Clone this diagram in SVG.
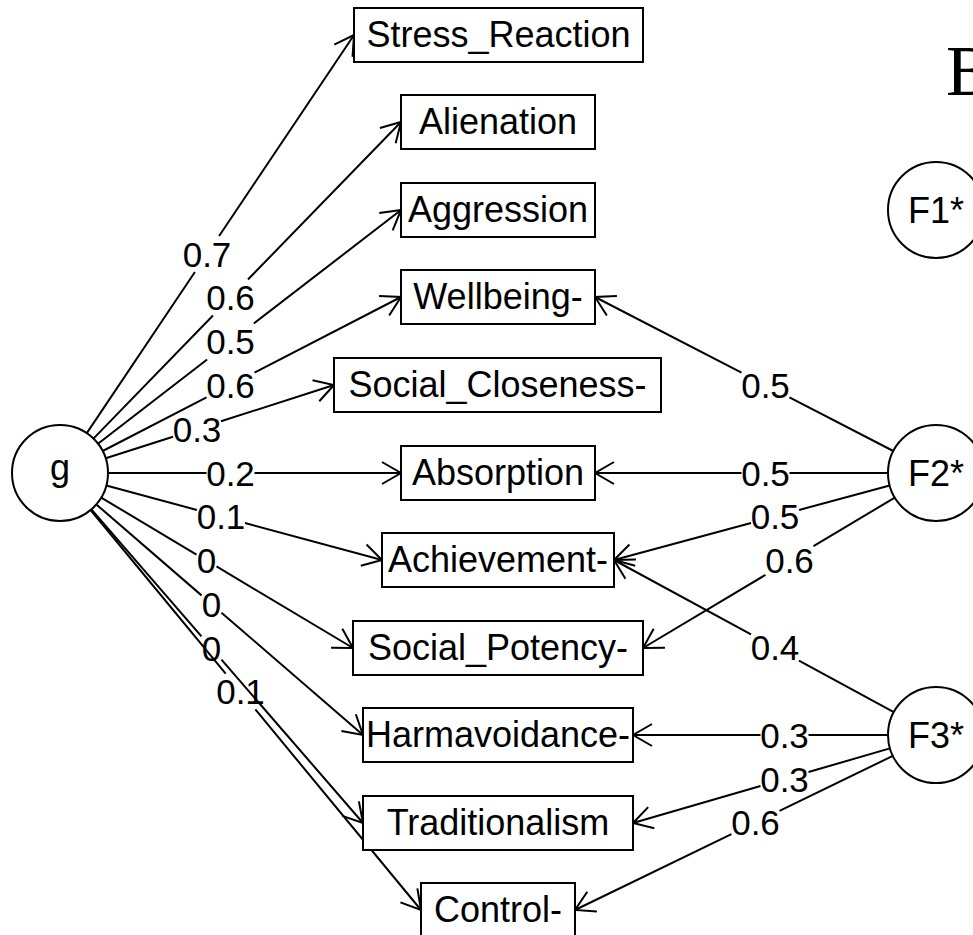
<svg xmlns="http://www.w3.org/2000/svg" width="973" height="935" viewBox="0 0 973 935">
  <style>
    .box { fill: #fff; stroke: #000; stroke-width: 2; }
    .lat { fill: #fff; stroke: #000; stroke-width: 2; }
    .nt { font-family: "Liberation Sans", Arial, sans-serif; font-size: 36px; fill: #000; text-anchor: middle; }
    .lt { font-family: "Liberation Sans", Arial, sans-serif; font-size: 35px; fill: #000; text-anchor: middle; }
    .edge { fill: none; stroke: #000; stroke-width: 2; marker-end: url(#arr); }
    .panel { font-family: "Liberation Serif", "Times New Roman", serif; font-size: 71px; fill: #000; }
  </style>
  <defs>
    <marker id="arr" markerUnits="userSpaceOnUse" viewBox="-24 -14 26 28" markerWidth="26" markerHeight="28" refX="0" refY="0" orient="auto" overflow="visible">
      <path d="M-19,-11 L0,0 L-19,11" fill="none" stroke="#000" stroke-width="2"/>
    </marker>
  </defs>
  <rect width="973" height="935" fill="#fff"/>

  <!-- panel letter -->
  <text class="panel" x="946" y="95">B</text>

  <!-- loadings: each line is dashed so that it breaks around its value -->
  <g id="connectors">
    <!-- general factor g -->
    <line class="edge" x1="86.8" y1="433.1" x2="354" y2="35" stroke-dasharray="194 43.4 2000"/>
    <text class="lt" x="207" y="266.5">0.7</text>
    <line class="edge" x1="93.4" y1="438.6" x2="401" y2="122" stroke-dasharray="171.6 50.2 2000"/>
    <text class="lt" x="230.5" y="310">0.6</text>
    <line class="edge" x1="98" y1="443.7" x2="401" y2="210" stroke-dasharray="137.8 59 2000"/>
    <text class="lt" x="230.5" y="354">0.5</text>
    <line class="edge" x1="102.7" y1="451" x2="401" y2="297" stroke-dasharray="116.85 54 2000"/>
    <text class="lt" x="230.5" y="397.5">0.6</text>
    <line class="edge" x1="105.7" y1="458.3" x2="334" y2="385" stroke-dasharray="70.7 50.4 2000"/>
    <text class="lt" x="197" y="441.5">0.3</text>
    <line class="edge" x1="108" y1="473" x2="401" y2="473" stroke-dasharray="98.5 48 2000"/>
    <text class="lt" x="230.5" y="485.5">0.2</text>
    <line class="edge" x1="106.3" y1="485.5" x2="382" y2="560" stroke-dasharray="93.85 49.8 2000"/>
    <text class="lt" x="221" y="529">0.1</text>
    <line class="edge" x1="101.2" y1="497.6" x2="353" y2="648" stroke-dasharray="111 23.3 2000"/>
    <text class="lt" x="206.5" y="573">0</text>
    <line class="edge" x1="96.3" y1="504.4" x2="363" y2="735" stroke-dasharray="139.1 26.4 2000"/>
    <text class="lt" x="211.5" y="616.5">0</text>
    <line class="edge" x1="91.4" y1="509.3" x2="363" y2="823" stroke-dasharray="168.15 30.6 2000"/>
    <text class="lt" x="211.5" y="660.5">0</text>
    <line class="edge" x1="90.6" y1="510" x2="421" y2="910" stroke-dasharray="212.1 46.6 2000"/>
    <text class="lt" x="240.5" y="704">0.1</text>

    <!-- group factor F2* -->
    <line class="edge" x1="893.3" y1="451" x2="595" y2="297" stroke-dasharray="116.85 54 2000"/>
    <text class="lt" x="765.5" y="397.5">0.5</text>
    <line class="edge" x1="888" y1="473" x2="595" y2="473" stroke-dasharray="98.5 48 2000"/>
    <text class="lt" x="765.5" y="485.5">0.5</text>
    <line class="edge" x1="889.7" y1="485.5" x2="614" y2="560" stroke-dasharray="93.85 49.8 2000"/>
    <text class="lt" x="775" y="529">0.5</text>
    <line class="edge" x1="894.8" y1="497.6" x2="643" y2="648" stroke-dasharray="94.7 55.9 2000"/>
    <text class="lt" x="789.5" y="573">0.6</text>

    <!-- group factor F3* -->
    <line class="edge" x1="893.8" y1="712.1" x2="614" y2="560" stroke-dasharray="107.95 54.6 2000"/>
    <text class="lt" x="775" y="660">0.4</text>
    <line class="edge" x1="888" y1="735" x2="633" y2="735" stroke-dasharray="79.5 48 2000"/>
    <text class="lt" x="784.5" y="747.5">0.3</text>
    <line class="edge" x1="889.9" y1="748.4" x2="633" y2="823" stroke-dasharray="84.75 50 2000"/>
    <text class="lt" x="784.5" y="791.5">0.3</text>
    <line class="edge" x1="892.8" y1="755.9" x2="575" y2="910" stroke-dasharray="125.9 53.4 2000"/>
    <text class="lt" x="755.5" y="835">0.6</text>
  </g>

  <!-- latent factors -->
  <g id="g">
    <circle class="lat" cx="60" cy="473" r="48"/>
    <text class="nt" x="60" y="480">g</text>
  </g>
  <g id="F1">
    <circle class="lat" cx="936" cy="210" r="48"/>
    <text class="nt" x="936" y="223">F1*</text>
  </g>
  <g id="F2">
    <circle class="lat" cx="936" cy="473" r="48"/>
    <text class="nt" x="936" y="486">F2*</text>
  </g>
  <g id="F3">
    <circle class="lat" cx="936" cy="735" r="48"/>
    <text class="nt" x="936" y="748">F3*</text>
  </g>

  <!-- observed scales -->
  <g id="Stress_Reaction">
    <rect class="box" x="354" y="8" width="289" height="54"/>
    <text class="nt" x="498.5" y="47">Stress_Reaction</text>
  </g>
  <g id="Alienation">
    <rect class="box" x="401" y="95" width="194" height="54"/>
    <text class="nt" x="498" y="134">Alienation</text>
  </g>
  <g id="Aggression">
    <rect class="box" x="401" y="183" width="194" height="54"/>
    <text class="nt" x="498" y="222">Aggression</text>
  </g>
  <g id="Wellbeing">
    <rect class="box" x="401" y="270" width="194" height="54"/>
    <text class="nt" x="498" y="309">Wellbeing-</text>
  </g>
  <g id="Social_Closeness">
    <rect class="box" x="334" y="358" width="327" height="54"/>
    <text class="nt" x="497.5" y="397">Social_Closeness-</text>
  </g>
  <g id="Absorption">
    <rect class="box" x="401" y="446" width="194" height="54"/>
    <text class="nt" x="498" y="485">Absorption</text>
  </g>
  <g id="Achievement">
    <rect class="box" x="382" y="533" width="232" height="54"/>
    <text class="nt" x="498" y="572">Achievement-</text>
  </g>
  <g id="Social_Potency">
    <rect class="box" x="353" y="621" width="290" height="54"/>
    <text class="nt" x="498" y="660">Social_Potency-</text>
  </g>
  <g id="Harmavoidance">
    <rect class="box" x="363" y="708" width="270" height="54"/>
    <text class="nt" x="498" y="747">Harmavoidance-</text>
  </g>
  <g id="Traditionalism">
    <rect class="box" x="363" y="796" width="270" height="54"/>
    <text class="nt" x="498" y="835">Traditionalism</text>
  </g>
  <g id="Control">
    <rect class="box" x="421" y="883" width="154" height="54"/>
    <text class="nt" x="498" y="922">Control-</text>
  </g>
</svg>
